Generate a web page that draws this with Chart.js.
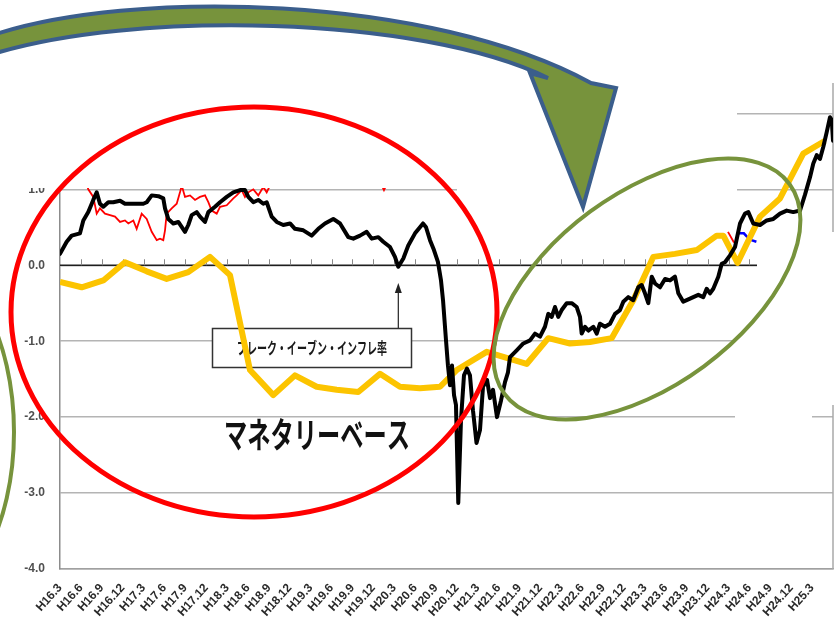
<!DOCTYPE html>
<html><head><meta charset="utf-8">
<script src="https://cdn.jsdelivr.net/npm/chart.js@4/dist/chart.umd.min.js"></script>
<style>html,body{margin:0;padding:0;background:#fff;overflow:hidden}canvas{display:block}</style>
</head><body>
<canvas id="c" width="839" height="635"></canvas>
<script>
// x values are months counted from H16.3 (March 2004)
const tickLabels = ['H16.3','H16.6','H16.9','H16.12','H17.3','H17.6','H17.9','H17.12','H18.3','H18.6','H18.9','H18.12','H19.3','H19.6','H19.9','H19.12','H20.3','H20.6','H20.9','H20.12','H21.3','H21.6','H21.9','H21.12','H22.3','H22.6','H22.9','H22.12','H23.3','H23.6','H23.9','H23.12','H24.3','H24.6','H24.9','H24.12','H25.3'];
const yTicks = [-4,-3,-2,-1,0,1,2];

// ブレーク・イーブン・インフレ率 (black)
const beiMonths = [0,0.96,1.68,2.87,3.35,4.06,4.78,5.27,5.74,6.22,6.94,7.65,8.62,9.33,10.53,11.96,12.45,13.17,14.12,14.83,15.08,15.55,16.27,16.99,17.95,18.42,18.91,19.63,20.10,20.82,21.30,22.26,22.98,23.94,24.89,25.85,26.56,27.04,27.76,28.47,29.19,29.68,30.40,31.12,32.06,33.03,33.74,34.94,36.14,37.09,38.05,39.24,40.21,41.40,42.12,43.08,44.04,44.76,45.71,46.42,47.39,48.10,48.58,49.30,50.01,50.98,51.69,52.13,52.56,53.13,53.70,54.28,54.71,55.00,55.43,55.71,56.00,56.29,56.58,56.86,57.19,57.58,58.01,58.44,58.87,59.30,59.81,60.31,60.74,61.32,61.75,62.18,62.75,63.33,63.90,64.33,64.62,65.58,66.53,67.49,68.21,68.93,69.64,70.12,70.61,71.08,71.55,72.04,72.76,73.48,74.20,74.67,74.91,75.39,75.86,76.58,77.07,77.54,78.26,78.98,79.70,80.41,80.89,81.60,82.32,83.04,83.53,84.00,84.48,84.97,85.44,86.16,86.88,87.59,88.31,88.79,89.50,89.99,90.94,91.66,92.37,92.86,93.34,93.81,94.53,95.02,95.49,96.21,96.93,97.65,98.36,98.84,99.55,100.52,101.48,102.43,103.39,104.35,105.30,106.26,106.98,107.70,108.17,108.66,109.13,109.61,110.09,110.57,110.82,111.0];
const beiValues = [0.15,0.31,0.39,0.42,0.59,0.70,0.86,0.96,0.81,0.77,0.83,0.83,0.85,0.81,0.81,0.81,0.83,0.92,0.91,0.88,0.75,0.61,0.55,0.57,0.44,0.53,0.66,0.70,0.64,0.57,0.70,0.77,0.83,0.90,0.96,0.99,0.99,0.90,0.83,0.86,0.81,0.83,0.64,0.57,0.53,0.55,0.48,0.46,0.39,0.48,0.55,0.61,0.55,0.37,0.35,0.39,0.44,0.35,0.37,0.31,0.24,0.11,-0.02,0.09,0.26,0.42,0.50,0.55,0.50,0.33,0.20,0.04,-0.20,-0.46,-0.99,-1.32,-1.58,-1.32,-1.71,-1.84,-3.13,-2.04,-1.45,-1.36,-1.45,-1.91,-2.34,-2.17,-1.60,-1.51,-1.75,-1.64,-2.00,-1.78,-1.54,-1.41,-1.21,-1.12,-1.03,-0.99,-0.90,-0.94,-0.81,-0.64,-0.68,-0.55,-0.68,-0.59,-0.50,-0.50,-0.55,-0.68,-0.90,-0.81,-0.86,-0.81,-0.90,-0.77,-0.81,-0.77,-0.64,-0.59,-0.48,-0.42,-0.46,-0.29,-0.26,-0.37,-0.50,-0.15,-0.24,-0.29,-0.18,-0.20,-0.15,-0.37,-0.48,-0.46,-0.42,-0.39,-0.42,-0.31,-0.37,-0.31,-0.15,0.02,0.04,0.13,0.24,0.55,0.68,0.70,0.55,0.53,0.59,0.61,0.68,0.72,0.70,0.72,0.93,1.16,1.34,1.45,1.40,1.56,1.75,1.95,1.91,1.64];

// マネタリーベース (yellow)
const mbMonths = [0,3.12,6.22,9.33,12.45,15.32,18.42,21.54,24.41,27.28,30.63,33.74,36.86,39.73,42.83,45.95,48.82,51.69,54.57,56.96,61.27,67.01,70.12,73.23,76.10,79.22,82.32,85.19,88.30,91.43,94.30,95.25,97.29,100.52,103.39,106.73,109.85];
const mbValues = [-0.22,-0.29,-0.20,0.04,-0.08,-0.18,-0.09,0.11,-0.13,-1.38,-1.71,-1.45,-1.60,-1.64,-1.67,-1.43,-1.60,-1.62,-1.60,-1.38,-1.14,-1.30,-0.96,-1.03,-1.01,-0.96,-0.46,0.11,0.15,0.20,0.39,0.39,0.03,0.64,0.88,1.47,1.64];

// red series (mostly above the visible area)
const redMonths = [3.73,4.06,4.78,5.27,5.74,6.46,7.18,7.90,8.62,9.33,9.81,10.53,11.01,11.73,12.45,13.17,13.89,14.36,14.83,15.08,15.32,16.04,16.76,17.23,17.48,17.95,18.67,19.39,20.10,20.82,21.30,21.78,22.50,22.98,23.94,24.89,25.37,26.09,26.56,27.04,27.76,28.47,29.19,29.68,30.15,30.59,38,45.95,46.52,47.10,80,95.92,96.78];
const redValues = [1.10,1.00,0.90,0.68,0.75,0.68,0.66,0.64,0.57,0.59,0.55,0.59,0.48,0.68,0.61,0.44,0.33,0.35,0.33,0.46,0.68,0.75,0.81,0.96,1.05,0.90,0.92,0.86,0.90,0.92,0.83,0.72,0.68,0.77,0.79,0.88,0.92,0.99,0.90,0.96,1.00,0.92,1.03,0.96,1.05,1.15,null,1.10,0.99,1.10,null,0.44,0.30];

// blue series (short piece)
const blueMonths = [97.4,98.2,98.6,99.3,100.0];
const blueValues = [0.42,0.42,0.38,0.33,0.31];

function pts(xs, ys){ return xs.map((x,i)=>({x:x, y:ys[i]})); }

function squeezed(ctx, text, cx, cy, font, targetW, color){
  ctx.save();
  ctx.font = font; ctx.fillStyle = color;
  const w = ctx.measureText(text).width;
  ctx.translate(cx, cy); ctx.scale(targetW / w, 1);
  ctx.textAlign = 'center'; ctx.textBaseline = 'middle';
  ctx.fillText(text, 0, 0);
  ctx.restore();
}

const underPlugin = {
  id: 'under',
  beforeDatasetsDraw(chart){
    const {ctx, chartArea:a} = chart;
    const xs = chart.scales.x, ys = chart.scales.y;
    ctx.save();
    // right frame
    ctx.strokeStyle = '#a8a8a8'; ctx.lineWidth = 1.5;
    ctx.beginPath(); ctx.moveTo(a.right, a.top); ctx.lineTo(a.right, a.bottom); ctx.stroke();
    // zero axis with tick marks
    const y0 = ys.getPixelForValue(0);
    ctx.strokeStyle = '#1e1e1e'; ctx.lineWidth = 1.6;
    ctx.beginPath(); ctx.moveTo(xs.getPixelForValue(0), y0); ctx.lineTo(xs.getPixelForValue(100.1), y0); ctx.stroke();
    ctx.strokeStyle = '#888'; ctx.lineWidth = 1;
    for (let m = 3; m <= 99; m += 3){
      const px = Math.round(xs.getPixelForValue(m)) + 0.5;
      ctx.beginPath(); ctx.moveTo(px, y0); ctx.lineTo(px, y0 - 6); ctx.stroke();
    }
    // label box + arrow to the H20.3 dip
    const ax = xs.getPixelForValue(48.58);
    ctx.strokeStyle = '#222'; ctx.lineWidth = 1.2;
    ctx.beginPath(); ctx.moveTo(ax, 328); ctx.lineTo(ax, 291); ctx.stroke();
    ctx.fillStyle = '#222';
    ctx.beginPath(); ctx.moveTo(ax, 283); ctx.lineTo(ax - 3.5, 293); ctx.lineTo(ax + 3.5, 293); ctx.closePath(); ctx.fill();
    ctx.fillStyle = '#fff'; ctx.fillRect(212, 328, 200, 40);
    ctx.strokeStyle = '#333'; ctx.lineWidth = 1.5; ctx.strokeRect(212.5, 328.5, 199, 39);
    squeezed(ctx, 'ブレーク・イーブン・インフレ率', 312, 348, 'bold 16px "Noto Sans CJK JP"', 150, '#1a1a1a');
    ctx.restore();
  }
};

const overPlugin = {
  id: 'over',
  afterDatasetsDraw(chart){
    const ctx = chart.ctx;
    ctx.save();
    // white cut-outs present in the picture
    ctx.fillStyle = '#fff';
    ctx.fillRect(0, 0, 737, 188);
    ctx.fillRect(457, 187, 280, 6);
    ctx.fillRect(757, 232, 82, 173);
    ctx.fillRect(735, 300, 77, 125);
    // red ellipse
    ctx.strokeStyle = '#ff0000'; ctx.lineWidth = 5;
    ctx.beginPath(); ctx.ellipse(254, 312, 243, 205, 0, 0, Math.PI*2); ctx.stroke();
    // green ellipses
    ctx.strokeStyle = '#77933c'; ctx.lineWidth = 4;
    ctx.beginPath(); ctx.ellipse(647, 289, 177, 96, -36.4*Math.PI/180, 0, Math.PI*2); ctx.stroke();
    ctx.beginPath(); ctx.ellipse(-90, 432, 104, 180, 0, 0, Math.PI*2); ctx.stroke();
    // big text
    squeezed(ctx, 'マネタリーベース', 317, 435, 'bold 35px "Noto Sans CJK JP"', 186, '#111');
    // curved arrow
    ctx.beginPath();
    ctx.moveTo(-10, 36);
    ctx.bezierCurveTo(130, -12, 430, -5, 591, 83);
    ctx.lineTo(616, 88);
    ctx.lineTo(583, 207);
    ctx.lineTo(530, 73);
    ctx.lineTo(548, 78);
    ctx.bezierCurveTo(420, 15, 130, 10, -10, 55);
    ctx.closePath();
    ctx.fillStyle = '#77933c'; ctx.fill();
    ctx.strokeStyle = '#3b5e8c'; ctx.lineWidth = 4; ctx.lineJoin = 'miter'; ctx.stroke();
    ctx.restore();
  }
};

Chart.defaults.font.family = '"Liberation Sans", Arial, sans-serif';

new Chart(document.getElementById('c'), {
  type: 'line',
  data: {
    datasets: [
      { label: 'BEI', data: pts(beiMonths, beiValues), borderColor: '#000', borderWidth: 4, pointRadius: 0, tension: 0, borderJoinStyle: 'round', borderCapStyle: 'round' },
      { label: 'MB', data: pts(mbMonths, mbValues), borderColor: '#fcc400', borderWidth: 6, pointRadius: 0, tension: 0, borderJoinStyle: 'round' },
      { label: 'red', data: pts(redMonths, redValues), borderColor: '#ff0000', borderWidth: 1.8, pointRadius: 0, tension: 0, spanGaps: false },
      { label: 'blue', data: pts(blueMonths, blueValues), borderColor: '#0000ff', borderWidth: 2.5, pointRadius: 0, tension: 0 }
    ]
  },
  options: {
    responsive: false, animation: false, devicePixelRatio: 1,
    layout: { padding: { top: 83, right: 6, left: 0, bottom: 0 } },
    plugins: { legend: { display: false }, tooltip: { enabled: false } },
    scales: {
      x: {
        type: 'linear', min: 0, max: 111, position: 'bottom',
        grid: { display: false, drawTicks: false },
        border: { display: true, color: '#a0a0a0', width: 1.5 },
        ticks: {
          stepSize: 3, autoSkip: false, maxRotation: 48, minRotation: 48, padding: 12,
          color: '#2a2a2a', font: { size: 12, weight: 'bold' },
          callback: (v) => { const i = Math.round(v / 3); return i < tickLabels.length ? tickLabels[i] : ''; }
        },
        afterFit: (s) => { s.height = 66; s.paddingLeft = 0; s.paddingRight = 0; }
      },
      y: {
        min: -4, max: 2.4,
        grid: { color: '#b4b4b4', lineWidth: 1.5, drawTicks: false },
        border: { display: true, color: '#8c8c8c', width: 1.5 },
        ticks: { padding: 15, color: '#505050', font: { size: 12, weight: 'bold' }, callback: (v) => Number(v).toFixed(1) },
        afterBuildTicks: (s) => { s.ticks = yTicks.map(v => ({ value: v })); },
        afterFit: (s) => { s.width = 60; s.paddingTop = 0; s.paddingBottom = 0; }
      }
    }
  },
  plugins: [underPlugin, overPlugin]
});
</script>
</body></html>
